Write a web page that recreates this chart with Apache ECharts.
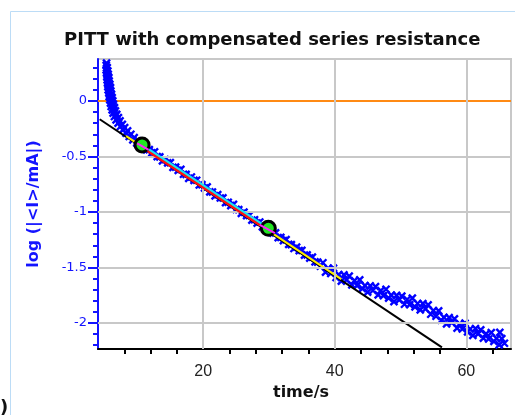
<!DOCTYPE html>
<html><head><meta charset="utf-8">
<script src="https://cdn.jsdelivr.net/npm/echarts@6/dist/echarts.min.js"></script>
<style>html,body{margin:0;padding:0;background:#fff}#c{width:515px;height:415px}</style>
</head><body><div id="c"></div>
<script>
// measured current decay (time in s, log |<I>/mA|)
const timeS = [
5.30,5.25,5.40,5.25,5.50,5.30,5.55,5.35,5.65,5.40,5.70,5.45,5.80,5.50,5.90,5.55,5.95,5.65,6.05,5.70,6.15,5.80,6.25,5.90,6.35,6.00,6.50,6.15,6.65,6.30,6.85,6.50,7.10,6.75,7.35,7.05,7.70,7.40,8.05,7.80,8.50,8.25,9.00,8.75,9.50,9.30,10.00,9.90,10.60,10.50,
11.0,11.4,11.8,12.2,12.6,13.0,13.4,13.8,14.2,14.6,15.0,15.4,15.8,16.2,16.6,17.0,17.4,17.8,18.2,18.6,19.0,19.4,19.8,20.2,20.6,21.0,21.4,21.8,22.2,22.6,23.0,23.4,23.8,24.2,24.6,25.0,25.4,25.8,26.2,26.6,27.0,27.4,27.8,28.2,28.6,29.0,29.4,29.8,30.2,30.6,31.0,31.4,31.8,32.2,32.6,33.0,33.4,33.8,34.2,34.6,35.0,35.4,35.8,36.2,36.6,37.0,37.4,37.8,
38.2,38.6,39.0,39.4,39.8,40.2,40.6,41.0,41.4,41.8,42.2,42.6,43.0,43.4,43.8,44.2,44.6,45.0,45.4,45.8,46.2,46.6,47.0,47.4,47.8,48.2,48.6,49.0,49.4,49.8,50.2,50.6,51.0,51.4,51.8,52.2,52.6,53.0,53.4,53.8,54.2,54.6,55.0,55.4,55.8,56.2,56.6,57.0,57.4,57.8,58.2,58.6,59.0,59.4,59.8,60.2,60.6,61.0,61.4,61.8,62.2,62.6,63.0,63.4,63.8,64.2,64.6,65.0,65.4,65.8,65.1
];
const logI = [
0.34,0.32,0.30,0.28,0.27,0.25,0.24,0.22,0.21,0.19,0.18,0.16,0.15,0.13,0.12,0.10,0.09,0.07,0.06,0.04,0.03,0.01,0.00,-0.02,-0.03,-0.05,-0.06,-0.08,-0.09,-0.11,-0.12,-0.14,-0.15,-0.17,-0.18,-0.20,-0.21,-0.23,-0.24,-0.26,-0.27,-0.29,-0.30,-0.32,-0.33,-0.35,-0.36,-0.38,-0.38,-0.40,
-0.398,-0.441,-0.438,-0.468,-0.458,-0.502,-0.504,-0.539,-0.527,-0.558,-0.556,-0.599,-0.596,-0.626,-0.616,-0.660,-0.662,-0.697,-0.685,-0.716,-0.714,-0.757,-0.754,-0.784,-0.774,-0.818,-0.820,-0.855,-0.843,-0.874,-0.872,-0.915,-0.912,-0.942,-0.932,-0.976,-0.978,-1.013,-1.001,-1.032,-1.030,-1.073,-1.070,-1.100,-1.090,-1.134,-1.136,-1.171,-1.159,-1.190,-1.188,-1.231,-1.228,-1.258,-1.248,-1.292,-1.294,-1.329,-1.317,-1.348,-1.346,-1.389,-1.386,-1.416,-1.406,-1.450,-1.452,-1.487,
-1.457,-1.541,-1.508,-1.554,-1.506,-1.590,-1.564,-1.622,-1.566,-1.612,-1.577,-1.656,-1.618,-1.664,-1.611,-1.690,-1.664,-1.722,-1.666,-1.707,-1.672,-1.746,-1.708,-1.754,-1.696,-1.775,-1.749,-1.807,-1.751,-1.792,-1.757,-1.831,-1.788,-1.834,-1.776,-1.855,-1.824,-1.882,-1.826,-1.872,-1.837,-1.921,-1.888,-1.939,-1.891,-1.975,-1.949,-2.007,-1.951,-1.997,-1.962,-2.046,-2.008,-2.054,-2.001,-2.080,-2.054,-2.112,-2.051,-2.097,-2.062,-2.136,-2.098,-2.144,-2.086,-2.165,-2.139,-2.197,-2.141,-2.182,-2.085
];
// selected fit points (circles)
const fitT = [10.7, 29.9];
const fitLog = [-0.396, -1.147];
// fitted lines: [t, log] end points
const blackFit = [[4.26,-0.165],[56.3,-2.22]];
const yellowFit = [[8.3,-0.317],[41.0,-1.605]];
const redFit = [[10.7,-0.414],[29.9,-1.165]];
const cyanFit = [[10.9,-0.402],[29.9,-1.145]];
const magentaFit1 = [[9.95,-0.381],[11.7,-0.441]];
const magentaFit2 = [[28.6,-1.117],[30.9,-1.190]];
const zeroLine = [[4,0],[66.8,0]];
// axes
const xMin = 4, xMax = 66.8, yMin = -2.234, yMax = 0.378;
const xLabelTicks = [20,40,60];
const xMinorTicks = [8,12,16,24,28,32,36,44,48,52,56,64];
const yLabelTicks = [0,-0.5,-1,-1.5,-2];
const yMinorTicks = [0.3,0.2,0.1,-0.1,-0.2,-0.3,-0.4,-0.6,-0.7,-0.8,-0.9,-1.1,-1.2,-1.3,-1.4,-1.6,-1.7,-1.8,-1.9,-2.1,-2.2];
const xGrid = [20,40,60];
const yGrid = [-0.5,-1,-1.5,-2];

const scatterData = timeS.map((t,i)=>[t, logI[i]]);
const blue = '#1414ff';
const dataBlue = '#0000ff';
const chart = echarts.init(document.getElementById('c'), null, {renderer:'canvas'});
const lineSeries = (data, color, width, z) => ({
  type:'line', data, symbol:'none', silent:true, z,
  lineStyle:{color, width, opacity:1}, animation:false
});
chart.setOption({
  backgroundColor:'#fff',
  animation:false,
  title:{
    text:'PITT with compensated series resistance',
    left:59, top:26,
    textStyle:{fontFamily:'DejaVu Sans', fontWeight:'bold', fontSize:18, color:'#111'}
  },
  graphic:[
    {type:'rect', shape:{x:10.5,y:11.5,width:520,height:420}, style:{fill:'none', stroke:'#bcdcf6', lineWidth:1}, silent:true, z:-1},
    {type:'text', left:0, top:399, style:{text:')', font:'bold 18px "DejaVu Sans"', fill:'#111'}}
  ],
  grid:{left:98, right:4, top:59, bottom:66, show:true, borderColor:'#c8c8c8', borderWidth:2, backgroundColor:'#fff'},
  xAxis:[{
    type:'value', min:xMin, max:xMax,
    name:'time/s', nameLocation:'middle', nameGap:36,
    nameTextStyle:{fontFamily:'DejaVu Sans', fontWeight:'bold', fontSize:16, color:'#111', padding:[0,7,0,0]},
    axisLine:{show:true, onZero:false, lineStyle:{color:'#000', width:2}},
    axisTick:{show:true, length:5, lineStyle:{color:'#000', width:2}, customValues:xMinorTicks},
    axisLabel:{show:true, customValues:xLabelTicks, margin:15, fontFamily:'Liberation Sans', fontSize:16, color:'#222'},
    splitLine:{show:false}
  },{
    type:'value', min:xMin, max:xMax, position:'bottom',
    axisLine:{show:false},
    axisTick:{show:true, length:9, lineStyle:{color:'#000', width:2}, customValues:xLabelTicks},
    axisLabel:{show:false},
    splitLine:{show:false}
  }],
  yAxis:[{
    type:'value', min:yMin, max:yMax,
    name:'log (|<I>/mA|)', nameLocation:'middle', nameGap:56, nameRotate:90,
    nameTextStyle:{fontFamily:'DejaVu Sans', fontWeight:'bold', fontSize:16, color:blue},
    axisLine:{show:true, onZero:false, lineStyle:{color:blue, width:2}},
    axisTick:{show:true, length:5, lineStyle:{color:blue, width:2}, customValues:yMinorTicks},
    axisLabel:{show:true, customValues:yLabelTicks, margin:11, fontFamily:'DejaVu Sans', fontSize:13, color:blue},
    splitLine:{show:false}
  },{
    type:'value', min:yMin, max:yMax, position:'left',
    axisLine:{show:false},
    axisTick:{show:true, length:10, lineStyle:{color:blue, width:2}, customValues:yLabelTicks},
    axisLabel:{show:false},
    splitLine:{show:false}
  }],
  series:[
    Object.assign(lineSeries(zeroLine, '#ff8a14', 2, 1), {
      markLine:{
        silent:true, symbol:'none', animation:false,
        label:{show:false},
        lineStyle:{color:'#c8c8c8', width:2, type:'solid', opacity:1},
        data: xGrid.map(v=>({xAxis:v})).concat(yGrid.map(v=>({yAxis:v})))
      }
    }),
    {
      type:'scatter', data:scatterData, z:2, silent:true, animation:false,
      symbol:'path://M0,0L10,10M10,0L0,10', symbolSize:7,
      itemStyle:{color:dataBlue, borderColor:dataBlue, borderWidth:2.4, opacity:1}
    },
    lineSeries(blackFit, '#000', 2, 3),
    lineSeries(yellowFit, '#ffee00', 2, 4),
    lineSeries(redFit, '#ff1010', 3, 5),
    lineSeries(cyanFit, '#19e6f0', 2, 6),
    {
      type:'scatter', data:fitT.map((t,i)=>[t, fitLog[i]]), z:7, silent:true, animation:false,
      symbol:'circle', symbolSize:14,
      itemStyle:{color:'#22e622', borderColor:'#000', borderWidth:3, opacity:1}
    },
    lineSeries(magentaFit1, '#ff22ff', 2, 8),
    lineSeries(magentaFit2, '#ff22ff', 2, 8)
  ]
});
</script>
</body></html>
